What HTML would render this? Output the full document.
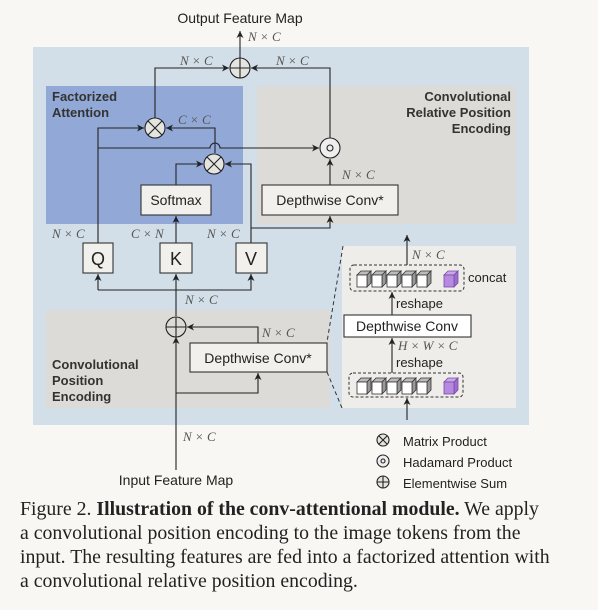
<!DOCTYPE html>
<html><head><meta charset="utf-8"><style>
html,body{margin:0;padding:0;background:#f8f7f3;}
svg{display:block}
.s{font-family:"Liberation Sans",sans-serif;fill:#222}
.m{font-family:"Liberation Serif",serif;font-style:italic;fill:#555;font-size:13px}
.b{font-family:"Liberation Sans",sans-serif;font-weight:bold;fill:#333;font-size:13px}
.cap{font-family:"Liberation Serif",serif;fill:#222;font-size:19.8px}
</style></head><body>
<svg width="598" height="610" viewBox="0 0 598 610" xmlns="http://www.w3.org/2000/svg">
<defs>
<marker id="a" markerWidth="8" markerHeight="8" refX="7" refY="4" orient="auto" markerUnits="userSpaceOnUse"><path d="M0,0.5 L7,4 L0,7.5 L2,4z" fill="#222"/></marker>
<g id="cube"><path d="M0,4 L4,0 L14,0 L10,4z" fill="#bbb" stroke="#333" stroke-width="0.8"/><path d="M10,4 L14,0 L14,12 L10,16z" fill="#999" stroke="#333" stroke-width="0.8"/><rect x="0" y="4" width="10" height="12" fill="#fff" stroke="#333" stroke-width="0.8"/></g>
<g id="pcube"><path d="M0,4 L4,0 L14,0 L10,4z" fill="#c9a8e6" stroke="#7a4aa8" stroke-width="0.8"/><path d="M10,4 L14,0 L14,12 L10,16z" fill="#9d6ccc" stroke="#7a4aa8" stroke-width="0.8"/><rect x="0" y="4" width="10" height="12" fill="#b58ae0" stroke="#7a4aa8" stroke-width="0.8"/></g>
</defs>
<rect x="33" y="47" width="496" height="378" fill="#d2dfe8"/>
<rect x="46" y="86" width="197" height="138" fill="#92a9d7"/>
<rect x="257" y="86" width="259" height="138" fill="#dcdbd7"/>
<rect x="46" y="310" width="284" height="98" fill="#dcdbd7"/>
<rect x="342" y="246" width="174" height="162" fill="#eeede9"/>
<path d="M343,246 L327,342 M327,372 L342,408" stroke="#333" stroke-dasharray="4,3" fill="none"/>

<text class="b" x="52" y="101">Factorized</text>
<text class="b" x="52" y="117">Attention</text>
<text class="b" x="511" y="101" text-anchor="end">Convolutional</text>
<text class="b" x="511" y="117" text-anchor="end">Relative Position</text>
<text class="b" x="511" y="133" text-anchor="end">Encoding</text>
<text class="b" x="52" y="369">Convolutional</text>
<text class="b" x="52" y="385">Position</text>
<text class="b" x="52" y="401">Encoding</text>

<g stroke="#222" stroke-width="1.1" fill="none">
<path d="M240,58 L240,31" marker-end="url(#a)"/>
<path d="M155,118 L155,68 L229,68" marker-end="url(#a)"/>
<path d="M330,138 L330,68 L251,68" marker-end="url(#a)"/>
<path d="M98,243 L98,128 L144,128" marker-end="url(#a)"/>
<path d="M215,153 L215,128 L166,128" marker-end="url(#a)"/>
<path d="M98,148 L210,148 A5,5 0 0 1 220,148 L319,148" marker-end="url(#a)"/>
<path d="M176,185 L176,164 L203,164" marker-end="url(#a)"/>
<path d="M251,243 L251,164 L225,164" marker-end="url(#a)"/>
<path d="M251,228 L330,228 L330,216" marker-end="url(#a)"/>
<path d="M330,185 L330,159" marker-end="url(#a)"/>
<path d="M176,243 L176,216" marker-end="url(#a)"/>
<path d="M176,316 L176,274" marker-end="url(#a)"/>
<path d="M98,290 L98,274" marker-end="url(#a)"/>
<path d="M98,290 L251,290 L251,274" marker-end="url(#a)"/>
<path d="M176,470 L176,337" marker-end="url(#a)"/>
<path d="M258,343 L258,327 L187,327" marker-end="url(#a)"/>
<path d="M176,393 L258,393 L258,373" marker-end="url(#a)"/>
<path d="M407,265 L407,235" marker-end="url(#a)"/>
<path d="M392,315 L392,292" marker-end="url(#a)"/>
<path d="M392,373 L392,338" marker-end="url(#a)"/>
<path d="M407,420 L407,398" marker-end="url(#a)"/>
</g>

<g fill="#e4e4e1" stroke="#222" stroke-width="1.1">
<circle cx="240" cy="68" r="10"/><path d="M230,68 H250 M240,58 V78" fill="none"/>
<circle cx="155" cy="128" r="10"/><path d="M148,121 L162,135 M162,121 L148,135" fill="none"/>
<circle cx="214" cy="164" r="10"/><path d="M207,157 L221,171 M221,157 L207,171" fill="none"/>
<circle cx="330" cy="148" r="10" fill="#eee"/><circle cx="330" cy="148" r="3" fill="none"/>
<circle cx="176" cy="327" r="10" fill="none"/><path d="M166,327 H186 M176,317 V337" fill="none"/>
<circle cx="383" cy="440" r="6"/><path d="M379,436 L387,444 M387,436 L379,444" fill="none"/>
<circle cx="383" cy="461" r="6" fill="#eee"/><circle cx="383" cy="461" r="2" fill="none"/>
<circle cx="383" cy="482" r="6"/><path d="M377,482 H389 M383,476 V488" fill="none"/>
</g>

<g fill="#f1f0ec" stroke="#333" stroke-width="1.1">
<rect x="141" y="185" width="70" height="30"/>
<rect x="262" y="185" width="136" height="30"/>
<rect x="83" y="243" width="30" height="30"/>
<rect x="160" y="243" width="32" height="30"/>
<rect x="236" y="243" width="31" height="30"/>
<rect x="190" y="343" width="137" height="29"/>
<rect x="344" y="315" width="127" height="22" fill="#fff"/>
</g>
<g fill="none" stroke="#333" stroke-dasharray="3,2">
<rect x="350" y="265" width="114" height="26" rx="4"/>
<rect x="349" y="373" width="114" height="24" rx="4"/>
</g>
<use href="#cube" x="357" y="271"/><use href="#cube" x="372" y="271"/><use href="#cube" x="387" y="271"/><use href="#cube" x="402" y="271"/><use href="#cube" x="417" y="271"/><use href="#pcube" x="444" y="271"/>
<use href="#cube" x="357" y="378"/><use href="#cube" x="372" y="378"/><use href="#cube" x="387" y="378"/><use href="#cube" x="402" y="378"/><use href="#cube" x="417" y="378"/><use href="#pcube" x="444" y="378"/>

<text class="s" x="176" y="205" font-size="14" text-anchor="middle">Softmax</text>
<text class="s" x="330" y="205" font-size="14" text-anchor="middle">Depthwise Conv*</text>
<text class="s" x="98" y="265" font-size="18" text-anchor="middle">Q</text>
<text class="s" x="176" y="265" font-size="18" text-anchor="middle">K</text>
<text class="s" x="251" y="265" font-size="18" text-anchor="middle">V</text>
<text class="s" x="258" y="363" font-size="14" text-anchor="middle">Depthwise Conv*</text>
<text class="s" x="407" y="331" font-size="14" text-anchor="middle">Depthwise Conv</text>
<text class="s" x="468" y="282" font-size="13">concat</text>
<text class="s" x="396" y="308" font-size="13">reshape</text>
<text class="s" x="396" y="367" font-size="13">reshape</text>
<text class="s" x="240" y="23" font-size="14" text-anchor="middle">Output Feature Map</text>
<text class="s" x="176" y="485" font-size="14" text-anchor="middle">Input Feature Map</text>
<text class="s" x="403" y="446" font-size="13">Matrix Product</text>
<text class="s" x="403" y="467" font-size="13">Hadamard Product</text>
<text class="s" x="403" y="488" font-size="13">Elementwise Sum</text>

<text class="m" x="248" y="41">N × C</text>
<text class="m" x="180" y="65">N × C</text>
<text class="m" x="276" y="65">N × C</text>
<text class="m" x="178" y="124">C × C</text>
<text class="m" x="342" y="179">N × C</text>
<text class="m" x="52" y="238">N × C</text>
<text class="m" x="131" y="238">C × N</text>
<text class="m" x="207" y="238">N × C</text>
<text class="m" x="185" y="304">N × C</text>
<text class="m" x="262" y="337">N × C</text>
<text class="m" x="183" y="441">N × C</text>
<text class="m" x="412" y="259">N × C</text>
<text class="m" x="398" y="350">H × W × C</text>

<text class="cap" x="20" y="515">Figure 2. <tspan font-weight="bold">Illustration of the conv-attentional module.</tspan> We apply</text>
<text class="cap" x="20" y="539">a convolutional position encoding to the image tokens from the</text>
<text class="cap" x="20" y="563">input. The resulting features are fed into a factorized attention with</text>
<text class="cap" x="20" y="587">a convolutional relative position encoding.</text>
</svg>
</body></html>
